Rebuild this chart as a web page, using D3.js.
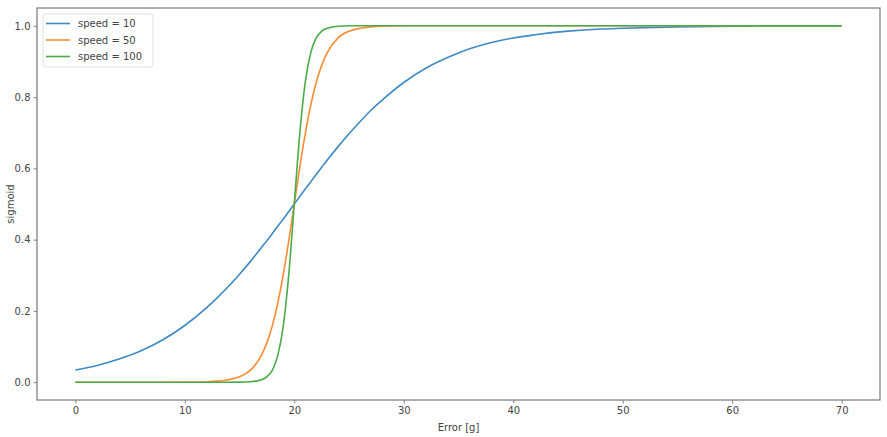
<!DOCTYPE html>
<html>
<head>
<meta charset="utf-8">
<script src="https://cdn.jsdelivr.net/npm/d3@7"></script>
<style>
  body { margin: 0; background: #fff; }
  text { font-family: "DejaVu Sans", sans-serif; fill: #444; }
</style>
</head>
<body>
<svg id="sigmoidchart" width="887" height="437"></svg>
<script>
 // sample points along the error axis
 let errorValues = [0, 2, 4, 6, 8, 10, 12, 13, 14, 15, 16, 16.5, 17, 17.5, 18, 18.5, 19, 19.5, 20,
                    20.5, 21, 21.5, 22, 22.5, 23, 24, 25, 26, 27, 28, 30, 32, 35, 38, 40, 42, 45, 48, 50, 55, 60, 65, 70];

 let speed10 = [0.034, 0.047, 0.065, 0.088, 0.119, 0.159, 0.209, 0.238, 0.269, 0.303, 0.339, 0.358, 0.378, 0.397, 0.417, 0.438, 0.458, 0.479, 0.5,
                0.521, 0.542, 0.562, 0.583, 0.603, 0.623, 0.661, 0.697, 0.731, 0.763, 0.791, 0.841, 0.881, 0.924, 0.953, 0.966, 0.975, 0.985, 0.991, 0.993, 0.997, 0.999, 0.9995, 0.9998];

 let speed50 = [0, 0, 0, 0, 0, 0.0002, 0.0013, 0.003, 0.007, 0.015, 0.034, 0.051, 0.076, 0.111, 0.159, 0.223, 0.303, 0.397, 0.5,
                0.603, 0.697, 0.777, 0.841, 0.889, 0.924, 0.966, 0.985, 0.993, 0.997, 0.999, 1, 1, 1, 1, 1, 1, 1, 1, 1, 1, 1, 1, 1];

 let speed100 = [0, 0, 0, 0, 0, 0, 0, 0, 0, 0.0002, 0.0013, 0.003, 0.007, 0.015, 0.034, 0.076, 0.159, 0.303, 0.5,
                 0.697, 0.841, 0.924, 0.966, 0.985, 0.993, 0.999, 1, 1, 1, 1, 1, 1, 1, 1, 1, 1, 1, 1, 1, 1, 1, 1, 1];

 let seriesNames = ["speed = 10", "speed = 50", "speed = 100"];
 let seriesValues = [speed10, speed50, speed100];
 let seriesColors = ["#3d8ac6", "#fd8c33", "#48ad48"];

 let xTicks = [0, 10, 20, 30, 40, 50, 60, 70];
 let yTicks = [0.0, 0.2, 0.4, 0.6, 0.8, 1.0];

 let chart = d3.select("svg#sigmoidchart");
 let margin = {top: 8, right: 7, bottom: 37, left: 37};
 let chartWidth = chart.attr("width") - margin.left - margin.right;
 let chartHeight = chart.attr("height") - margin.top - margin.bottom;

 let plotArea = chart.append("g")
                     .attr("transform", `translate(${margin.left},${margin.top})`);

 const xScale = d3.scaleLinear().domain([-3.5, 73.5]).range([0, chartWidth]);
 const yScale = d3.scaleLinear().domain([-0.05, 1.05]).range([chartHeight, 0]);

 let bottomAxis = d3.axisBottom(xScale).tickValues(xTicks).tickSize(3.5).tickPadding(3).tickFormat(d3.format("d"));
 let leftAxis = d3.axisLeft(yScale).tickValues(yTicks).tickSize(3.5).tickPadding(3).tickFormat(d3.format(".1f"));

 let xAxisG = plotArea.append("g")
                      .attr("transform", `translate(0,${chartHeight})`)
                      .call(bottomAxis);
 let yAxisG = plotArea.append("g").call(leftAxis);

 [xAxisG, yAxisG].forEach(g => {
     g.select(".domain").remove();
     g.selectAll(".tick line").attr("stroke", "#666").attr("stroke-width", 0.8);
     g.selectAll(".tick text").style("font-size", "10px").attr("fill", "#444");
 });

 // lines
 let line = d3.line()
              .x((d, i) => xScale(errorValues[i]))
              .y(d => yScale(d))
              .curve(d3.curveMonotoneX);

 plotArea.selectAll("path.series")
         .data(seriesValues)
         .join("path")
         .attr("class", "series")
         .attr("d", d => line(d))
         .attr("fill", "none")
         .attr("stroke", (d, i) => seriesColors[i])
         .attr("stroke-width", 1.6)
         .attr("stroke-linejoin", "round");

 // frame
 plotArea.append("rect")
         .attr("width", chartWidth)
         .attr("height", chartHeight)
         .attr("fill", "none")
         .attr("stroke", "#777")
         .attr("stroke-width", 1.2);

 // axis labels
 chart.append("text")
      .attr("x", margin.left + chartWidth / 2)
      .attr("y", 431)
      .attr("text-anchor", "middle")
      .style("font-size", "10px")
      .text("Error [g]");

 chart.append("text")
      .attr("transform", `translate(14,${margin.top + chartHeight / 2}) rotate(-90)`)
      .attr("text-anchor", "middle")
      .style("font-size", "10px")
      .text("sigmoid");

 // legend
 let legend = chart.append("g").attr("transform", "translate(43,14)");
 legend.append("rect")
       .attr("width", 110)
       .attr("height", 53)
       .attr("rx", 2.5)
       .attr("fill", "#fff")
       .attr("fill-opacity", 0.8)
       .attr("stroke", "#d8d8d8")
       .attr("stroke-width", 0.8);

 let entries = legend.selectAll("g.entry")
                     .data(seriesNames)
                     .join("g")
                     .attr("class", "entry")
                     .attr("transform", (d, i) => `translate(0,${9.5 + i * 16.5})`);
 entries.append("line")
        .attr("x1", 3).attr("x2", 27)
        .attr("stroke", (d, i) => seriesColors[i])
        .attr("stroke-width", 1.6);
 entries.append("text")
        .attr("x", 35)
        .attr("dy", "0.35em")
        .style("font-size", "10px")
        .text(d => d);
</script>
</body>
</html>
